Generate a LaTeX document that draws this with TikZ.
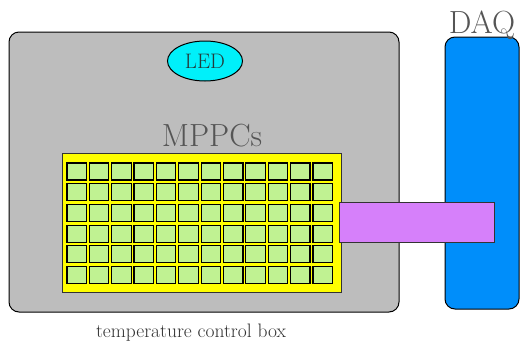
\documentclass[tikz,border=0pt]{standalone}
\usepackage{tikz}
\usetikzlibrary{positioning,shapes.geometric}
\definecolor{BoxGray}{RGB}{189,189,189}
\definecolor{LedCyan}{RGB}{0,240,250}
\definecolor{BoardYellow}{RGB}{255,255,0}
\definecolor{CellGreen}{RGB}{192,242,146}
\definecolor{CablePink}{RGB}{214,128,250}
\definecolor{DaqBlue}{RGB}{0,142,250}
\definecolor{LabelGray}{RGB}{85,85,85}
\tikzset{
	box/.style={draw=black,fill=BoxGray,rounded corners=10pt,line width=1pt,
		minimum width=390pt,minimum height=280pt,inner sep=0pt},
	led/.style={ellipse,draw=black,fill=LedCyan,line width=1pt,
		minimum width=75pt,minimum height=40pt,inner sep=0pt,
		font=\fontsize{21}{21}\selectfont,text=LabelGray!70!teal!60!black},
	board/.style={draw=black!80,fill=BoardYellow,line width=1pt,
		minimum width=279pt,minimum height=139pt,inner sep=0pt},
	cell/.style={draw=black,fill=CellGreen,line width=1.2pt,
		minimum width=19.5pt,minimum height=17pt,inner sep=0pt},
	cable/.style={draw=black!80,fill=CablePink,line width=1pt,
		minimum width=155pt,minimum height=40pt,inner sep=0pt},
	daq/.style={draw=black,fill=DaqBlue,rounded corners=10pt,line width=1pt,
		minimum width=74pt,minimum height=272pt,inner sep=0pt},
	title/.style={text=LabelGray,font=\fontsize{32}{32}\selectfont,inner sep=0pt},
}
\begin{document}
\begin{tikzpicture}[x=1pt,y=-1pt]
	\useasboundingbox (0,0) rectangle (523,341);
	\node[box] (tbox) at (204,172) {};
	\node[led] (led) at (205,61) {LED};
	\node[title,anchor=base] (mppcs) at (212,146) {MPPCs};
	\node[board] (board) at (201.5,222.5) {};
	\foreach \i in {0,...,11}
		\foreach \j in {0,...,5}
			\node[cell] (c-\i-\j) at ({76.7+22.36*\i},{171.5+20.7*\j}) {};
	\node[daq] (daq) at (482,173) {};
	\node[title,anchor=base] (daqlabel) at (482,33) {DAQ};
	\node[cable] (cable) at (416.5,222) {};
	\node[anchor=base,inner sep=0pt,text=black!80,font=\fontsize{19.5}{19.5}\selectfont]
		(boxlabel) at (191,337) {temperature control box};
\end{tikzpicture}
\end{document}
